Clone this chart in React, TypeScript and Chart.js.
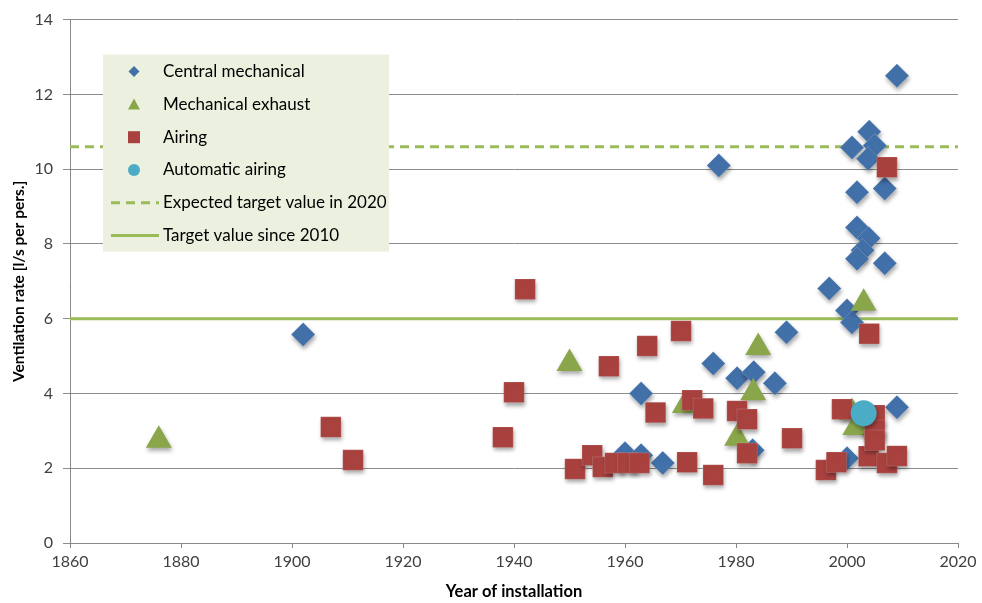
import { useEffect, useRef } from 'react';
import { Chart, registerables } from 'chart.js';

Chart.register(...registerables);

// ---- data ----
const seriesNames = [
  'Central mechanical',
  'Mechanical exhaust',
  'Airing',
  'Automatic airing',
  'Expected target value in 2020',
  'Target value since 2010',
];

const centralYears = [1902, 1976.9, 2009, 2000.9, 2004, 2005, 2003.8, 2001.8, 2006.8, 2001.8, 2003.9, 2002.8, 2001.8, 2006.8, 1996.8, 2000, 2000.9, 1989.1, 1975.9, 1980.2, 1983.2, 1987, 1962.9, 2009, 1960, 1962.9, 1966.8, 1983, 2000];
const centralValues = [5.58, 10.1, 12.5, 10.58, 11.0, 10.63, 10.28, 9.38, 9.48, 8.44, 8.15, 7.83, 7.6, 7.48, 6.81, 6.22, 5.9, 5.64, 4.8, 4.41, 4.57, 4.27, 4.0, 3.63, 2.4, 2.35, 2.14, 2.48, 2.27];

const exhaustYears = [1876, 1950, 1970.8, 1980.2, 1983.1, 1984, 2003, 2000.9, 2001.5, 2004.6];
const exhaustValues = [2.75, 4.8, 3.68, 2.8, 4.02, 5.23, 6.41, 3.49, 3.09, 3.12];

const airingYears = [1907, 1911, 1938, 1940, 1942, 1951, 1954.1, 1956, 1957.1, 1958.2, 1960.5, 1962.6, 1964, 1965.5, 1970.1, 1971.2, 1972.1, 1974.1, 1975.9, 1980.2, 1982, 1982, 1990.1, 1996.2, 1998.1, 1999.1, 2004, 2007.2, 2003.9, 2005, 2005, 2005, 2007.2, 2009];
const airingValues = [3.1, 2.22, 2.83, 4.03, 6.79, 1.98, 2.35, 2.03, 4.73, 2.14, 2.14, 2.14, 5.27, 3.49, 5.67, 2.16, 3.82, 3.6, 1.82, 3.53, 3.31, 2.4, 2.8, 1.95, 2.16, 3.58, 5.6, 10.05, 2.32, 3.42, 3.02, 2.75, 2.14, 2.33];

const automaticYears = [2003];
const automaticValues = [3.47];

const expectedTarget2020 = 10.6;
const targetSince2010 = 6.0;

const xRange = [1860, 2020];
const yRange = [0, 14];
const xStep = 20;
const yStep = 2;

// ---- styles ----
const BLUE = '#4270a9';
const GREEN = '#8aa64b';
const RED = '#a9423f';
const CYAN = '#4bacc6';
const LINE_GREEN = '#9bbb59';
const FONT = 'Lato, "Open Sans", sans-serif';

const zip = (xs: number[], ys: number[]) => xs.map((x, i) => ({ x, y: ys[i] }));

const shadowPlugin = {
  id: 'markerShadow',
  beforeDatasetDraw(chart: any, args: any) {
    const ds = chart.data.datasets[args.index];
    if (!ds.shadow) return;
    const ctx = chart.ctx;
    ctx.save();
    ctx.shadowColor = 'rgba(0,0,0,0.35)';
    ctx.shadowBlur = 4;
    ctx.shadowOffsetX = 1;
    ctx.shadowOffsetY = 3;
  },
  afterDatasetDraw(chart: any, args: any) {
    const ds = chart.data.datasets[args.index];
    if (!ds.shadow) return;
    chart.ctx.restore();
  },
};

function drawMarker(ctx: CanvasRenderingContext2D, kind: string, x: number, y: number, color: string) {
  ctx.fillStyle = color;
  ctx.beginPath();
  if (kind === 'diamond') {
    const r = 5.5;
    ctx.moveTo(x, y - r);
    ctx.lineTo(x + r, y);
    ctx.lineTo(x, y + r);
    ctx.lineTo(x - r, y);
    ctx.closePath();
  } else if (kind === 'triangle') {
    ctx.moveTo(x, y - 6);
    ctx.lineTo(x + 6, y + 5);
    ctx.lineTo(x - 6, y + 5);
    ctx.closePath();
  } else if (kind === 'square') {
    ctx.rect(x - 6, y - 6, 12, 12);
  } else {
    ctx.arc(x, y, 6, 0, Math.PI * 2);
  }
  ctx.fill();
}

const legendPlugin = {
  id: 'boxLegend',
  afterDraw(chart: any) {
    const { ctx, chartArea } = chart;
    const x0 = chartArea.left + 33;
    const y0 = chartArea.top + 35;
    const w = 286;
    const h = 197;
    ctx.save();
    ctx.fillStyle = '#ebf1de';
    ctx.fillRect(x0, y0, w, h);
    const kinds = ['diamond', 'triangle', 'square', 'circle', 'dash', 'solid'];
    const colors = [BLUE, GREEN, RED, CYAN, LINE_GREEN, LINE_GREEN];
    const markerX = x0 + 31;
    const textX = x0 + 60;
    ctx.font = '17px ' + FONT;
    ctx.textBaseline = 'middle';
    ctx.textAlign = 'left';
    seriesNames.forEach((name, i) => {
      const y = y0 + 17 + i * 32.8;
      const k = kinds[i];
      if (k === 'dash' || k === 'solid') {
        ctx.save();
        ctx.strokeStyle = colors[i];
        ctx.lineWidth = 3;
        ctx.setLineDash(k === 'dash' ? [9, 6] : []);
        ctx.beginPath();
        ctx.moveTo(x0 + 8, y);
        ctx.lineTo(x0 + 56, y);
        ctx.stroke();
        ctx.restore();
      } else {
        drawMarker(ctx, k, markerX, y, colors[i]);
      }
      ctx.fillStyle = '#000';
      ctx.fillText(name, textX, y);
    });
    ctx.restore();
  },
};

export default function App() {
  const ref = useRef<HTMLCanvasElement | null>(null);

  useEffect(() => {
    if (!ref.current) return;
    const hLine = (v: number) => [{ x: xRange[0], y: v }, { x: xRange[1], y: v }];
    const chart = new Chart(ref.current, {
      type: 'scatter',
      data: {
        datasets: [
          {
            label: seriesNames[3],
            data: zip(automaticYears, automaticValues),
            pointStyle: 'circle',
            pointRadius: 13,
            backgroundColor: CYAN,
            borderColor: CYAN,
            borderWidth: 0,
            order: 0,
            shadow: true,
          } as any,
          {
            label: seriesNames[2],
            data: zip(airingYears, airingValues),
            pointStyle: 'rect',
            pointRadius: 14.5,
            backgroundColor: RED,
            borderColor: 'rgba(255,255,255,0.15)',
            borderWidth: 1,
            order: 1,
            shadow: true,
          } as any,
          {
            label: seriesNames[1],
            data: zip(exhaustYears, exhaustValues),
            pointStyle: 'triangle',
            pointRadius: 15,
            backgroundColor: GREEN,
            borderColor: GREEN,
            borderWidth: 0,
            order: 2,
            shadow: true,
          } as any,
          {
            label: seriesNames[0],
            data: zip(centralYears, centralValues),
            pointStyle: 'rectRot',
            pointRadius: 12,
            backgroundColor: BLUE,
            borderColor: 'rgba(255,255,255,0.2)',
            borderWidth: 1,
            order: 3,
            shadow: true,
          } as any,
          {
            type: 'line',
            label: seriesNames[4],
            data: hLine(expectedTarget2020),
            borderColor: LINE_GREEN,
            borderWidth: 3,
            borderDash: [9, 6],
            pointRadius: 0,
            showLine: true,
            order: 4,
          } as any,
          {
            type: 'line',
            label: seriesNames[5],
            data: hLine(targetSince2010),
            borderColor: LINE_GREEN,
            borderWidth: 3,
            pointRadius: 0,
            showLine: true,
            order: 5,
          } as any,
        ],
      },
      options: {
        animation: false,
        responsive: false,
        events: [],
        layout: { padding: { top: 19, right: 24, left: 0, bottom: 0 } },
        plugins: {
          legend: { display: false },
          tooltip: { enabled: false },
        },
        scales: {
          x: {
            type: 'linear',
            min: xRange[0],
            max: xRange[1],
            afterFit: (s: any) => { s.height = 60; },
            ticks: {
              stepSize: xStep,
              color: '#404040',
              font: { family: FONT, size: 16 },
              padding: 4,
              callback: (v: any) => String(v),
            },
            grid: {
              drawOnChartArea: false,
              drawTicks: true,
              tickLength: 5,
              color: '#888888',
            },
            border: { color: '#888888', width: 1 },
            title: {
              display: true,
              text: 'Year of installation',
              color: '#000',
              font: { family: FONT, size: 16.5, weight: 'bold' },
              padding: { top: 0, bottom: 1 },
            },
          },
          y: {
            type: 'linear',
            min: yRange[0],
            max: yRange[1],
            afterFit: (s: any) => { s.width = 70; },
            ticks: {
              stepSize: yStep,
              color: '#404040',
              font: { family: FONT, size: 16 },
              padding: 10,
            },
            grid: {
              color: '#8c8c8c',
              tickLength: 7,
              lineWidth: 1,
            },
            border: { color: '#888888', width: 1 },
            title: {
              display: true,
              text: 'Ventilation rate [l/s per pers.]',
              color: '#000',
              font: { family: FONT, size: 15.5, weight: 'bold' },
              padding: { top: 10, bottom: 0 },
            },
          },
        },
      } as any,
      plugins: [shadowPlugin, legendPlugin],
    });
    return () => chart.destroy();
  }, []);

  return (
    <div style={{ position: 'absolute', left: 0, top: 0, width: 982, height: 603, background: '#fff' }}>
      <canvas ref={ref} width={982} height={603} style={{ width: 982, height: 603, display: 'block' }} />
    </div>
  );
}
